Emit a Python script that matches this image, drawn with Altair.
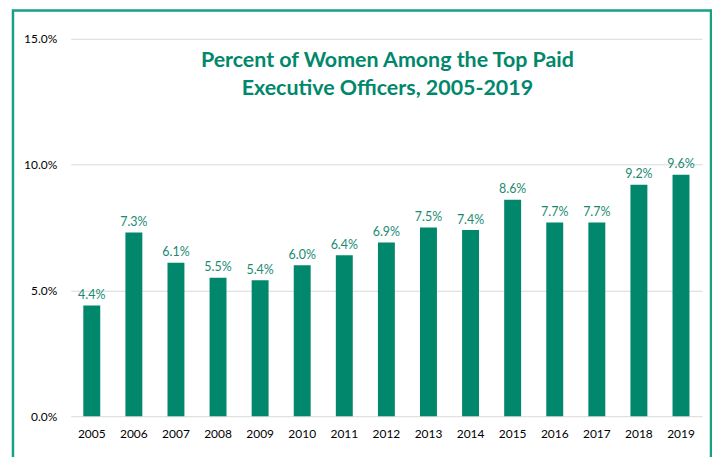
import altair as alt
import pandas as pd

years = ["2005", "2006", "2007", "2008", "2009", "2010", "2011", "2012",
         "2013", "2014", "2015", "2016", "2017", "2018", "2019"]
pct = [4.4, 7.3, 6.1, 5.5, 5.4, 6.0, 6.4, 6.9, 7.5, 7.4, 8.6, 7.7, 7.7, 9.2, 9.6]
title_lines = ["Percent of Women Among the Top Paid", "Executive Officers, 2005-2019"]
y_ticks = [0.0, 0.05, 0.10, 0.15]

GREEN = "#00876C"
FONT = "Lato"

df = pd.DataFrame({"year": years, "value": [v / 100 for v in pct]})

W, H = 634, 379

base = alt.Chart(df)

bars = base.mark_bar(color=GREEN, width=17).encode(
    x=alt.X("year:N", sort=years,
            scale=alt.Scale(paddingInner=0.6, paddingOuter=0.3),
            axis=alt.Axis(title=None, labelAngle=0, domain=False, ticks=False,
                          labelPadding=12, labelFontSize=12, labelColor="#000000",
                          labelFont=FONT)),
    y=alt.Y("value:Q", scale=alt.Scale(domain=[0, 0.15], nice=False),
            axis=alt.Axis(title=None, values=y_ticks, format=".1%", domain=False,
                          ticks=False, labelPadding=14, labelFontSize=12,
                          labelColor="#000000", labelFont=FONT,
                          gridColor="#d9d9d9", gridWidth=1)),
)

labels = base.mark_text(color="#1a8a72", fontSize=12.5, font=FONT, dy=-10.5).encode(
    x=alt.X("year:N", sort=years),
    y="value:Q",
    text=alt.Text("value:Q", format=".1%"),
)

title = alt.Chart(pd.DataFrame({"t": ["\n".join(title_lines)]})).mark_text(
    color=GREEN, fontSize=21.5, fontWeight="bold", font=FONT, lineBreak="\n",
    lineHeight=28, baseline="top", align="center"
).encode(x=alt.value(W / 2 + 1), y=alt.value(11), text="t:N")

border = alt.Chart(pd.DataFrame({"a": [0]})).mark_rect(
    fill=None, stroke="#17a085", strokeWidth=2.5, clip=False
).encode(x=alt.value(-58), x2=alt.value(643), y=alt.value(-28.5), y2=alt.value(440))

chart = alt.layer(border, bars, labels, title).properties(
    width=W, height=H,
    autosize=alt.AutoSizeParams(type="none"),
    padding={"left": 63, "top": 30, "right": 10, "bottom": 40},
).configure(background="white").configure_view(stroke=None)

chart.save("out.html", embed_options={"renderer": "svg", "actions": False})
